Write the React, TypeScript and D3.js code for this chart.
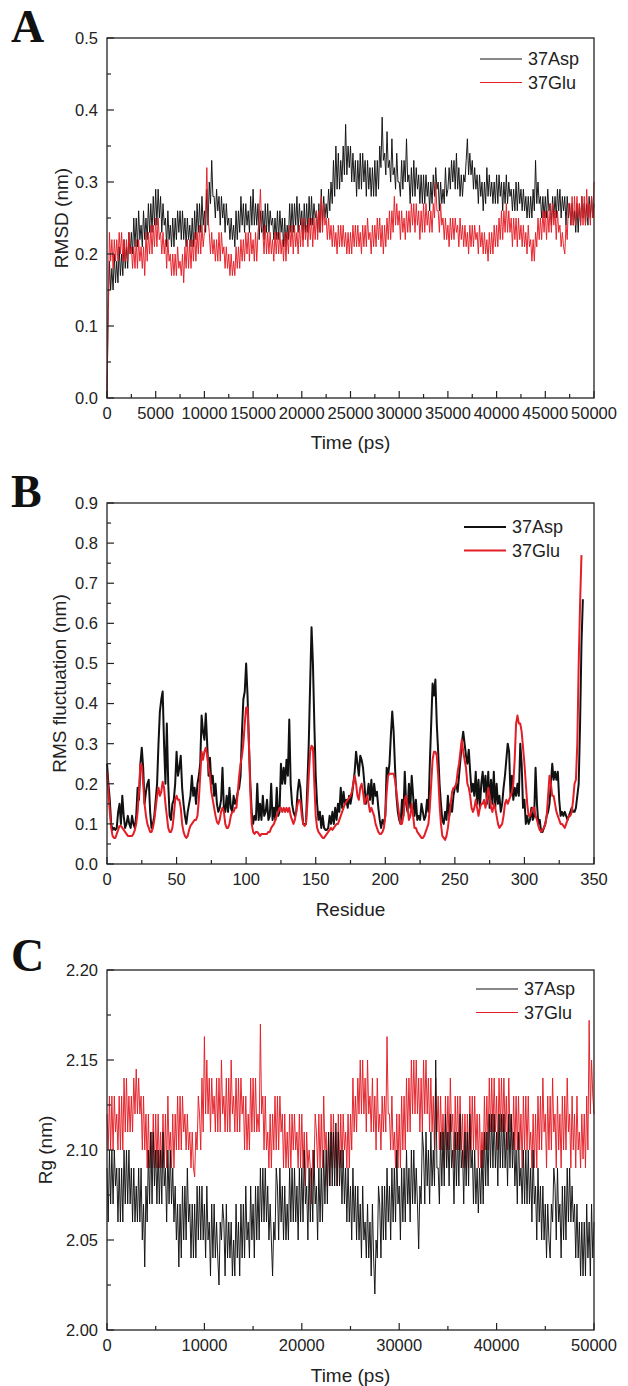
import React from 'react';
import * as d3 from 'd3';

const seriesNames = ['37Asp', '37Glu'];
const seriesColors = ['#111111', '#e41e26'];

// Panel A: RMSD (nm), sampled every 125 ps
const rmsdStep = 125;
const rmsdAsp = [
 0.00,0.12,0.19,0.15,0.18,0.15,0.20,0.16,0.19,0.16,0.21,0.17,0.20,0.17,0.22,0.18,0.21,0.18,0.23,0.20,
 0.23,0.20,0.25,0.21,0.25,0.21,0.26,0.22,0.24,0.21,0.26,0.22,0.25,0.22,0.27,0.23,0.27,0.23,0.28,0.24,
 0.29,0.24,0.29,0.25,0.28,0.23,0.27,0.24,0.25,0.21,0.26,0.22,0.24,0.21,0.25,0.21,0.25,0.22,0.26,0.23,
 0.26,0.22,0.26,0.22,0.25,0.21,0.25,0.22,0.24,0.21,0.25,0.21,0.26,0.22,0.27,0.23,0.27,0.23,0.28,0.24,
 0.26,0.23,0.29,0.24,0.30,0.27,0.33,0.28,0.28,0.25,0.29,0.26,0.28,0.24,0.28,0.25,0.27,0.23,0.27,0.24,
 0.25,0.22,0.25,0.22,0.24,0.21,0.26,0.22,0.26,0.23,0.28,0.24,0.27,0.23,0.27,0.24,0.26,0.23,0.28,0.24,
 0.29,0.24,0.27,0.24,0.27,0.22,0.26,0.23,0.26,0.22,0.27,0.23,0.27,0.23,0.26,0.24,0.25,0.22,0.25,0.22,
 0.26,0.22,0.26,0.23,0.25,0.21,0.25,0.21,0.24,0.22,0.27,0.23,0.27,0.23,0.27,0.24,0.28,0.23,0.27,0.24,
 0.26,0.22,0.27,0.23,0.27,0.23,0.28,0.24,0.28,0.24,0.27,0.25,0.26,0.23,0.27,0.23,0.29,0.24,0.28,0.25,
 0.27,0.25,0.29,0.26,0.30,0.27,0.33,0.28,0.35,0.29,0.34,0.29,0.33,0.30,0.35,0.31,0.38,0.31,0.35,0.32,
 0.35,0.30,0.34,0.30,0.33,0.28,0.33,0.29,0.34,0.29,0.34,0.30,0.33,0.28,0.33,0.29,0.32,0.28,0.32,0.28,
 0.33,0.28,0.33,0.29,0.35,0.32,0.39,0.33,0.34,0.31,0.37,0.32,0.33,0.30,0.36,0.31,0.32,0.29,0.34,0.30,
 0.30,0.28,0.33,0.29,0.33,0.30,0.36,0.30,0.31,0.27,0.32,0.28,0.33,0.28,0.32,0.29,0.31,0.27,0.31,0.27,
 0.31,0.27,0.31,0.28,0.30,0.26,0.30,0.27,0.31,0.28,0.32,0.29,0.30,0.26,0.30,0.27,0.29,0.27,0.32,0.28,
 0.29,0.32,0.29,0.33,0.30,0.33,0.29,0.34,0.29,0.32,0.28,0.31,0.28,0.31,0.30,0.33,0.36,0.31,0.34,0.31,
 0.33,0.29,0.32,0.29,0.31,0.27,0.31,0.28,0.30,0.26,0.30,0.27,0.32,0.28,0.31,0.28,0.30,0.27,0.30,0.27,
 0.31,0.27,0.31,0.28,0.30,0.26,0.30,0.27,0.31,0.27,0.30,0.28,0.29,0.26,0.29,0.26,0.30,0.26,0.30,0.27,
 0.29,0.26,0.29,0.26,0.28,0.25,0.28,0.25,0.28,0.25,0.29,0.26,0.33,0.27,0.30,0.27,0.28,0.25,0.28,0.25,
 0.28,0.25,0.29,0.26,0.27,0.24,0.28,0.25,0.28,0.25,0.29,0.26,0.29,0.25,0.28,0.26,0.28,0.24,0.28,0.25,
 0.27,0.24,0.27,0.24,0.26,0.23,0.27,0.23,0.27,0.24,0.28,0.25,0.27,0.24,0.27,0.24,0.28,0.25,0.28,0.25,
 0.27];
const rmsdGlu = [
 0.00,0.13,0.23,0.19,0.22,0.18,0.22,0.19,0.22,0.19,0.23,0.20,0.23,0.19,0.22,0.19,0.22,0.19,0.23,0.20,
 0.21,0.18,0.21,0.18,0.22,0.18,0.22,0.19,0.21,0.18,0.21,0.17,0.23,0.19,0.23,0.20,0.24,0.20,0.24,0.21,
 0.25,0.21,0.25,0.22,0.23,0.20,0.23,0.20,0.22,0.18,0.22,0.19,0.20,0.17,0.20,0.17,0.20,0.17,0.21,0.18,
 0.19,0.17,0.20,0.16,0.21,0.18,0.22,0.18,0.22,0.18,0.22,0.19,0.23,0.19,0.23,0.20,0.24,0.20,0.24,0.21,
 0.23,0.26,0.32,0.25,0.23,0.20,0.23,0.20,0.22,0.19,0.22,0.19,0.23,0.19,0.23,0.20,0.21,0.18,0.21,0.18,
 0.20,0.17,0.20,0.17,0.19,0.17,0.21,0.18,0.21,0.18,0.22,0.19,0.22,0.19,0.23,0.20,0.23,0.19,0.23,0.20,
 0.22,0.19,0.23,0.19,0.23,0.25,0.29,0.24,0.23,0.20,0.24,0.20,0.23,0.20,0.23,0.20,0.22,0.19,0.23,0.20,
 0.23,0.20,0.23,0.20,0.22,0.19,0.23,0.19,0.23,0.20,0.24,0.21,0.24,0.20,0.24,0.21,0.23,0.20,0.24,0.21,
 0.25,0.21,0.25,0.22,0.24,0.21,0.25,0.22,0.25,0.21,0.25,0.22,0.26,0.22,0.26,0.23,0.28,0.23,0.27,0.24,
 0.25,0.22,0.25,0.22,0.24,0.21,0.24,0.21,0.23,0.20,0.24,0.21,0.24,0.21,0.24,0.21,0.23,0.20,0.23,0.20,
 0.23,0.20,0.24,0.21,0.24,0.21,0.24,0.21,0.23,0.20,0.24,0.21,0.24,0.21,0.25,0.22,0.23,0.20,0.24,0.21,
 0.24,0.21,0.25,0.22,0.25,0.21,0.24,0.20,0.24,0.21,0.25,0.22,0.26,0.22,0.26,0.23,0.28,0.24,0.27,0.24,
 0.26,0.22,0.26,0.23,0.25,0.22,0.26,0.23,0.26,0.23,0.27,0.24,0.27,0.23,0.27,0.24,0.26,0.22,0.26,0.23,
 0.27,0.23,0.27,0.24,0.26,0.23,0.26,0.23,0.27,0.25,0.30,0.26,0.26,0.23,0.27,0.24,0.25,0.22,0.25,0.22,
 0.24,0.21,0.25,0.22,0.25,0.22,0.25,0.23,0.24,0.21,0.25,0.22,0.24,0.21,0.24,0.21,0.23,0.20,0.24,0.21,
 0.24,0.21,0.24,0.22,0.23,0.20,0.24,0.21,0.23,0.20,0.23,0.20,0.22,0.19,0.23,0.20,0.23,0.20,0.24,0.21,
 0.24,0.21,0.25,0.22,0.26,0.22,0.26,0.23,0.27,0.23,0.26,0.23,0.25,0.21,0.25,0.22,0.25,0.21,0.25,0.22,
 0.24,0.21,0.24,0.21,0.23,0.20,0.24,0.21,0.22,0.19,0.22,0.19,0.23,0.21,0.25,0.22,0.25,0.22,0.26,0.23,
 0.26,0.22,0.26,0.23,0.27,0.23,0.27,0.24,0.26,0.22,0.26,0.23,0.24,0.21,0.23,0.21,0.20,0.24,0.22,0.27,
 0.27,0.24,0.28,0.24,0.28,0.24,0.28,0.25,0.27,0.24,0.28,0.24,0.28,0.24,0.29,0.25,0.27,0.24,0.28,0.25,
 0.30];

// Panel B: RMS fluctuation (nm) per residue
const rmsfAsp = [0.25,0.2,0.16,0.1,0.085,0.09,0.085,0.09,0.13,0.15,
 0.1,0.17,0.12,0.09,0.1,0.12,0.1,0.09,0.12,0.1,
 0.09,0.12,0.19,0.16,0.25,0.29,0.24,0.15,0.18,0.2,
 0.21,0.13,0.09,0.1,0.12,0.16,0.2,0.3,0.38,0.41,
 0.43,0.3,0.2,0.35,0.2,0.12,0.11,0.15,0.16,0.2,
 0.28,0.22,0.24,0.27,0.19,0.15,0.12,0.1,0.13,0.15,
 0.17,0.22,0.17,0.19,0.15,0.2,0.22,0.25,0.37,0.33,
 0.31,0.375,0.3,0.22,0.265,0.2,0.22,0.17,0.2,0.15,
 0.13,0.14,0.16,0.24,0.14,0.13,0.17,0.13,0.19,0.14,
 0.13,0.17,0.15,0.16,0.18,0.19,0.22,0.33,0.41,0.43,
 0.5,0.42,0.3,0.2,0.13,0.1,0.12,0.11,0.2,0.11,
 0.15,0.11,0.17,0.12,0.13,0.16,0.11,0.12,0.2,0.11,
 0.14,0.11,0.19,0.12,0.13,0.25,0.2,0.24,0.2,0.26,
 0.22,0.36,0.2,0.15,0.13,0.12,0.13,0.18,0.21,0.19,
 0.14,0.1,0.1,0.1,0.2,0.3,0.45,0.59,0.5,0.35,
 0.22,0.15,0.11,0.13,0.09,0.12,0.09,0.085,0.085,0.09,
 0.12,0.1,0.13,0.1,0.14,0.11,0.15,0.13,0.19,0.14,
 0.18,0.15,0.16,0.14,0.17,0.15,0.17,0.2,0.23,0.28,
 0.25,0.22,0.27,0.26,0.24,0.2,0.15,0.17,0.2,0.16,
 0.21,0.15,0.2,0.17,0.18,0.14,0.11,0.09,0.11,0.1,
 0.12,0.24,0.22,0.25,0.32,0.38,0.33,0.24,0.17,0.13,
 0.11,0.1,0.16,0.12,0.23,0.15,0.13,0.2,0.14,0.22,
 0.17,0.12,0.16,0.11,0.12,0.11,0.15,0.13,0.11,0.12,
 0.16,0.13,0.25,0.35,0.45,0.42,0.46,0.35,0.28,0.2,
 0.15,0.11,0.1,0.13,0.11,0.17,0.12,0.15,0.13,0.17,
 0.19,0.2,0.18,0.22,0.26,0.3,0.33,0.3,0.27,0.25,
 0.285,0.23,0.18,0.2,0.17,0.23,0.15,0.21,0.14,0.2,
 0.23,0.18,0.22,0.15,0.23,0.14,0.21,0.15,0.23,0.14,
 0.2,0.15,0.17,0.13,0.15,0.19,0.22,0.26,0.3,0.28,
 0.17,0.22,0.16,0.19,0.17,0.2,0.17,0.3,0.25,0.14,
 0.16,0.1,0.12,0.1,0.11,0.14,0.11,0.12,0.24,0.15,
 0.1,0.11,0.08,0.08,0.09,0.1,0.12,0.13,0.15,0.2,
 0.25,0.21,0.23,0.21,0.23,0.16,0.12,0.13,0.12,0.13,
 0.12,0.11,0.12,0.13,0.14,0.13,0.13,0.14,0.17,0.2,
 0.35,0.55,0.66];
const rmsfGlu = [0.23,0.18,0.13,0.09,0.07,0.065,0.065,0.075,0.085,0.095,
 0.095,0.09,0.085,0.08,0.075,0.07,0.07,0.07,0.07,0.075,
 0.085,0.1,0.13,0.18,0.25,0.245,0.2,0.15,0.12,0.1,
 0.09,0.08,0.08,0.09,0.11,0.14,0.17,0.19,0.17,0.18,
 0.205,0.19,0.15,0.12,0.09,0.08,0.08,0.09,0.12,0.16,
 0.17,0.16,0.16,0.14,0.1,0.08,0.07,0.065,0.07,0.085,
 0.095,0.1,0.105,0.11,0.11,0.12,0.16,0.22,0.28,0.26,
 0.28,0.29,0.27,0.24,0.22,0.18,0.16,0.14,0.12,0.105,
 0.1,0.11,0.13,0.14,0.13,0.1,0.09,0.09,0.1,0.12,
 0.13,0.13,0.14,0.14,0.18,0.22,0.25,0.27,0.3,0.35,
 0.39,0.39,0.3,0.18,0.1,0.08,0.075,0.08,0.08,0.075,
 0.07,0.075,0.075,0.075,0.075,0.075,0.08,0.08,0.09,0.095,
 0.1,0.11,0.12,0.13,0.14,0.14,0.13,0.14,0.13,0.14,
 0.13,0.14,0.12,0.11,0.1,0.11,0.13,0.15,0.16,0.155,
 0.12,0.1,0.095,0.1,0.15,0.22,0.28,0.295,0.29,0.2,
 0.12,0.09,0.08,0.075,0.07,0.065,0.065,0.07,0.075,0.08,
 0.085,0.09,0.085,0.09,0.095,0.1,0.1,0.11,0.12,0.13,
 0.14,0.15,0.155,0.16,0.165,0.17,0.18,0.2,0.22,0.2,
 0.17,0.16,0.19,0.2,0.18,0.15,0.16,0.17,0.15,0.13,
 0.14,0.13,0.12,0.1,0.09,0.08,0.075,0.075,0.08,0.09,
 0.12,0.18,0.22,0.225,0.225,0.225,0.225,0.21,0.18,0.15,
 0.12,0.1,0.1,0.12,0.16,0.17,0.14,0.11,0.12,0.15,
 0.12,0.09,0.09,0.08,0.075,0.07,0.065,0.065,0.07,0.08,
 0.09,0.1,0.14,0.2,0.26,0.28,0.28,0.27,0.22,0.15,
 0.1,0.07,0.065,0.06,0.07,0.09,0.12,0.15,0.18,0.19,
 0.19,0.2,0.23,0.25,0.28,0.31,0.28,0.26,0.24,0.2,
 0.19,0.17,0.14,0.13,0.14,0.16,0.14,0.12,0.14,0.15,
 0.15,0.16,0.14,0.16,0.19,0.17,0.14,0.13,0.15,0.14,
 0.12,0.1,0.09,0.095,0.1,0.12,0.15,0.16,0.15,0.16,
 0.17,0.18,0.2,0.26,0.35,0.37,0.35,0.35,0.33,0.29,
 0.25,0.2,0.15,0.12,0.12,0.13,0.14,0.14,0.12,0.11,
 0.095,0.085,0.08,0.085,0.09,0.1,0.12,0.17,0.22,0.2,
 0.17,0.17,0.15,0.13,0.12,0.11,0.1,0.1,0.095,0.09,
 0.1,0.11,0.12,0.12,0.13,0.16,0.2,0.21,0.3,0.5,
 0.65,0.77];

// Panel C: Rg (nm), sampled every 125 ps
const rgStep = 125;
const rgAsp = [
 2.09,2.06,2.10,2.07,2.10,2.07,2.10,2.08,2.09,2.06,2.09,2.06,2.09,2.06,2.10,2.07,2.10,2.07,2.10,2.07,
 2.09,2.06,2.09,2.06,2.08,2.06,2.09,2.06,2.09,2.05,2.07,2.035,2.08,2.06,2.10,2.07,2.11,2.07,2.11,2.08,
 2.10,2.07,2.10,2.07,2.10,2.07,2.11,2.08,2.09,2.06,2.10,2.07,2.10,2.07,2.09,2.06,2.08,2.05,2.07,2.035,
 2.07,2.04,2.08,2.05,2.08,2.05,2.09,2.06,2.07,2.04,2.07,2.04,2.07,2.04,2.08,2.05,2.08,2.05,2.08,2.05,
 2.07,2.04,2.08,2.05,2.06,2.03,2.07,2.04,2.07,2.04,2.06,2.04,2.025,2.06,2.05,2.07,2.06,2.03,2.07,2.04,
 2.06,2.04,2.06,2.03,2.05,2.03,2.07,2.04,2.06,2.03,2.07,2.04,2.07,2.04,2.08,2.05,2.06,2.04,2.08,2.05,
 2.07,2.04,2.08,2.05,2.08,2.05,2.09,2.06,2.09,2.06,2.09,2.06,2.08,2.05,2.07,2.05,2.03,2.06,2.05,2.09,
 2.08,2.05,2.09,2.06,2.08,2.05,2.08,2.05,2.07,2.05,2.09,2.06,2.09,2.06,2.09,2.06,2.08,2.05,2.09,2.06,
 2.09,2.06,2.10,2.07,2.08,2.05,2.09,2.06,2.09,2.06,2.10,2.07,2.08,2.05,2.09,2.06,2.09,2.06,2.10,2.07,
 2.10,2.07,2.11,2.08,2.11,2.08,2.11,2.08,2.115,2.08,2.11,2.08,2.10,2.07,2.10,2.07,2.09,2.06,2.09,2.06,
 2.08,2.05,2.09,2.06,2.08,2.05,2.08,2.05,2.07,2.04,2.08,2.05,2.06,2.04,2.07,2.04,2.06,2.03,2.07,2.04,
 2.02,2.05,2.04,2.08,2.07,2.04,2.08,2.05,2.08,2.05,2.09,2.06,2.08,2.05,2.09,2.06,2.09,2.06,2.10,2.07,
 2.08,2.05,2.09,2.06,2.09,2.06,2.10,2.07,2.09,2.06,2.10,2.07,2.10,2.07,2.09,2.07,2.045,2.08,2.07,2.11,
 2.10,2.07,2.11,2.08,2.10,2.07,2.11,2.08,2.10,2.08,2.15,2.09,2.09,2.07,2.11,2.08,2.11,2.08,2.12,2.09,
 2.11,2.08,2.12,2.09,2.10,2.07,2.11,2.08,2.11,2.08,2.12,2.09,2.10,2.07,2.11,2.08,2.11,2.08,2.12,2.09,
 2.10,2.07,2.10,2.07,2.09,2.065,2.09,2.07,2.10,2.07,2.11,2.08,2.11,2.08,2.12,2.09,2.12,2.09,2.12,2.09,
 2.11,2.08,2.12,2.09,2.12,2.09,2.12,2.09,2.11,2.08,2.12,2.09,2.12,2.09,2.11,2.08,2.10,2.07,2.11,2.08,
 2.09,2.07,2.10,2.07,2.10,2.07,2.10,2.07,2.09,2.06,2.10,2.07,2.08,2.05,2.09,2.06,2.08,2.05,2.08,2.05,
 2.07,2.04,2.07,2.05,2.04,2.07,2.06,2.09,2.08,2.05,2.09,2.06,2.07,2.04,2.08,2.05,2.08,2.05,2.09,2.06,
 2.09,2.06,2.08,2.06,2.07,2.04,2.07,2.04,2.06,2.03,2.06,2.03,2.06,2.03,2.07,2.04,2.06,2.03,2.07,2.04,
 2.06];
const rgGlu = [
 2.12,2.10,2.13,2.10,2.13,2.10,2.13,2.11,2.12,2.10,2.13,2.10,2.13,2.10,2.14,2.11,2.14,2.11,2.13,2.11,
 2.13,2.11,2.14,2.12,2.145,2.12,2.14,2.12,2.13,2.10,2.13,2.10,2.12,2.09,2.12,2.09,2.11,2.09,2.12,2.09,
 2.12,2.09,2.12,2.09,2.11,2.09,2.12,2.09,2.12,2.09,2.13,2.10,2.11,2.09,2.12,2.09,2.12,2.10,2.13,2.10,
 2.13,2.10,2.13,2.11,2.12,2.10,2.12,2.10,2.11,2.09,2.11,2.09,2.085,2.11,2.10,2.13,2.12,2.10,2.14,2.11,
 2.163,2.12,2.15,2.12,2.14,2.11,2.14,2.12,2.13,2.11,2.14,2.11,2.14,2.11,2.15,2.12,2.13,2.11,2.14,2.11,
 2.14,2.11,2.15,2.12,2.13,2.11,2.14,2.11,2.14,2.11,2.14,2.12,2.13,2.10,2.13,2.10,2.12,2.10,2.14,2.11,
 2.14,2.11,2.14,2.11,2.12,2.11,2.17,2.12,2.13,2.10,2.13,2.10,2.11,2.09,2.12,2.09,2.12,2.10,2.13,2.10,
 2.13,2.10,2.13,2.11,2.12,2.09,2.12,2.09,2.11,2.09,2.12,2.09,2.12,2.10,2.12,2.10,2.11,2.09,2.12,2.09,
 2.12,2.09,2.11,2.08,2.11,2.09,2.10,2.09,2.07,2.10,2.09,2.12,2.11,2.09,2.12,2.09,2.12,2.09,2.13,2.10,
 2.11,2.08,2.11,2.08,2.12,2.09,2.12,2.09,2.11,2.08,2.12,2.09,2.12,2.09,2.12,2.10,2.11,2.09,2.12,2.09,
 2.12,2.10,2.14,2.11,2.13,2.11,2.14,2.12,2.15,2.12,2.15,2.12,2.14,2.11,2.15,2.12,2.13,2.11,2.14,2.11,
 2.13,2.10,2.14,2.11,2.12,2.10,2.13,2.11,2.13,2.11,2.163,2.12,2.12,2.10,2.13,2.10,2.11,2.09,2.12,2.09,
 2.12,2.09,2.13,2.10,2.13,2.10,2.14,2.11,2.14,2.11,2.15,2.12,2.15,2.12,2.15,2.12,2.14,2.11,2.14,2.11,
 2.15,2.12,2.15,2.12,2.14,2.11,2.14,2.11,2.13,2.10,2.14,2.11,2.13,2.10,2.13,2.10,2.12,2.09,2.13,2.10,
 2.13,2.10,2.14,2.11,2.12,2.09,2.13,2.10,2.13,2.10,2.13,2.10,2.12,2.09,2.12,2.09,2.12,2.09,2.13,2.10,
 2.13,2.10,2.13,2.10,2.12,2.09,2.12,2.09,2.11,2.09,2.13,2.10,2.13,2.10,2.14,2.11,2.14,2.11,2.14,2.11,
 2.13,2.10,2.14,2.11,2.14,2.11,2.14,2.11,2.13,2.10,2.14,2.11,2.12,2.10,2.13,2.10,2.13,2.10,2.13,2.10,
 2.12,2.09,2.13,2.10,2.13,2.10,2.13,2.10,2.11,2.09,2.12,2.09,2.12,2.09,2.13,2.10,2.13,2.10,2.14,2.11,
 2.12,2.09,2.13,2.10,2.13,2.10,2.14,2.11,2.12,2.09,2.13,2.10,2.12,2.09,2.13,2.10,2.13,2.10,2.14,2.11,
 2.12,2.09,2.13,2.10,2.12,2.09,2.13,2.10,2.11,2.09,2.12,2.095,2.12,2.09,2.13,2.10,2.172,2.12,2.15,2.13,
 2.12];

// Ticks
const timeTicks5k = [0, 5000, 10000, 15000, 20000, 25000, 30000, 35000, 40000, 45000, 50000];
const timeTicks10k = [0, 10000, 20000, 30000, 40000, 50000];
const residueTicks = [0, 50, 100, 150, 200, 250, 300, 350];
const rmsdTicks = [0, 0.1, 0.2, 0.3, 0.4, 0.5];
const rmsfTicks = [0, 0.1, 0.2, 0.3, 0.4, 0.5, 0.6, 0.7, 0.8, 0.9];
const rgTicks = [2.0, 2.05, 2.1, 2.15, 2.2];

const SANS = "'Liberation Sans', Arial, sans-serif";
const SERIF = "'Liberation Serif', 'Times New Roman', serif";
const LEFT = 107;
const RIGHT = 594;

type S = { values: number[]; step: number; color: string; width: number; name: string };

function Panel(props: {
  label: string; labelY: number; top: number; bottom: number;
  xDomain: [number, number]; yDomain: [number, number];
  xMajor: number[]; xMinorStep: number; yMajor: number[]; yMinorStep: number;
  yFmt: (v: number) => string; xTitle: string; xTitleY: number; yTitle: string; yTitleX: number;
  series: S[]; legendY: number; legendX: number; legendLineW: number;
}) {
  const p = props;
  const x = d3.scaleLinear().domain(p.xDomain).range([LEFT, RIGHT]);
  const y = d3.scaleLinear().domain(p.yDomain).range([p.bottom, p.top]);
  const xMinor = d3.range(p.xDomain[0], p.xDomain[1] + 1e-9, p.xMinorStep).filter(v => !p.xMajor.some(m => Math.abs(m - v) < 1e-9));
  const yMinor = d3.range(p.yDomain[0], p.yDomain[1] + 1e-9, p.yMinorStep).filter(v => !p.yMajor.some(m => Math.abs(m - v) < 1e-9));
  const axisColor = '#222';
  const mid = (p.top + p.bottom) / 2;
  return (
    <g>
      <text x={11} y={p.labelY} fontFamily={SERIF} fontWeight="bold" fontSize={46} fill="#111">{p.label}</text>
      {p.series.map((s, k) => {
        const line = d3.line<number>().x((_, i) => x(i * s.step)).y(d => y(d));
        return <path key={k} d={line(s.values) || ''} fill="none" stroke={s.color} strokeWidth={s.width} strokeLinejoin="round" />;
      })}
      <rect x={LEFT} y={p.top} width={RIGHT - LEFT} height={p.bottom - p.top} fill="none" stroke={axisColor} strokeWidth={1.3} />
      {p.xMajor.map(v => (
        <g key={'xm' + v}>
          <line x1={x(v)} x2={x(v)} y1={p.bottom} y2={p.bottom - 7} stroke={axisColor} strokeWidth={1.2} />
          <text x={x(v)} y={p.bottom + 21} textAnchor="middle" fontFamily={SANS} fontSize={16.5} fill="#222">{String(v)}</text>
        </g>
      ))}
      {xMinor.map(v => (
        <line key={'xn' + v} x1={x(v)} x2={x(v)} y1={p.bottom} y2={p.bottom - 4} stroke={axisColor} strokeWidth={1.2} />
      ))}
      {p.yMajor.map(v => (
        <g key={'ym' + v}>
          <line x1={LEFT} x2={LEFT + 7} y1={y(v)} y2={y(v)} stroke={axisColor} strokeWidth={1.2} />
          <text x={98} y={y(v)} dy="0.36em" textAnchor="end" fontFamily={SANS} fontSize={16.5} fill="#222">{p.yFmt(v)}</text>
        </g>
      ))}
      {yMinor.map(v => (
        <line key={'yn' + v} x1={LEFT} x2={LEFT + 4} y1={y(v)} y2={y(v)} stroke={axisColor} strokeWidth={1.2} />
      ))}
      <text x={(LEFT + RIGHT) / 2} y={p.xTitleY} textAnchor="middle" fontFamily={SANS} fontSize={19} fill="#222">{p.xTitle}</text>
      <text transform={`translate(${p.yTitleX},${mid}) rotate(-90)`} textAnchor="middle" fontFamily={SANS} fontSize={19} fill="#222">{p.yTitle}</text>
      {seriesNames.map((n, k) => {
        const s = p.series.find(ss => ss.name === n)!;
        const ly = p.legendY + k * 23.5;
        return (
          <g key={'lg' + n}>
            <line x1={p.legendX} x2={p.legendX + 42} y1={ly} y2={ly} stroke={s.color} strokeWidth={p.legendLineW} />
            <text x={p.legendX + 48} y={ly} dy="0.36em" fontFamily={SANS} fontSize={18} fill="#222">{n}</text>
          </g>
        );
      })}
    </g>
  );
}

export default function App() {
  const thin = 0.95;
  const aSeries: S[] = [
    { name: seriesNames[0], values: rmsdAsp, step: rmsdStep, color: seriesColors[0], width: thin },
    { name: seriesNames[1], values: rmsdGlu, step: rmsdStep, color: seriesColors[1], width: thin },
  ];
  const bSeries: S[] = [
    { name: seriesNames[0], values: rmsfAsp, step: 1, color: seriesColors[0], width: 2 },
    { name: seriesNames[1], values: rmsfGlu, step: 1, color: seriesColors[1], width: 2 },
  ];
  const cSeries: S[] = [
    { name: seriesNames[1], values: rgGlu, step: rgStep, color: seriesColors[1], width: thin },
    { name: seriesNames[0], values: rgAsp, step: rgStep, color: seriesColors[0], width: thin },
  ];
  return (
    <div style={{ position: 'absolute', left: 0, top: 0 }}>
      <svg width={628} height={1386} style={{ display: 'block', background: '#fff' }}>
        <Panel label="A" labelY={42} top={38} bottom={398} xDomain={[0, 50000]} yDomain={[0, 0.5]}
          xMajor={timeTicks5k} xMinorStep={2500} yMajor={rmsdTicks} yMinorStep={0.05}
          yFmt={d3.format('.1f')} xTitle="Time (ps)" xTitleY={449} yTitle="RMSD (nm)" yTitleX={68}
          series={aSeries} legendY={59} legendX={480} legendLineW={1.2} />
        <Panel label="B" labelY={507} top={503} bottom={864} xDomain={[0, 350]} yDomain={[0, 0.9]}
          xMajor={residueTicks} xMinorStep={25} yMajor={rmsfTicks} yMinorStep={0.05}
          yFmt={d3.format('.1f')} xTitle="Residue" xTitleY={916} yTitle="RMS fluctuation (nm)" yTitleX={66}
          series={bSeries} legendY={527} legendX={464} legendLineW={2.2} />
        <Panel label="C" labelY={971} top={970} bottom={1330} xDomain={[0, 50000]} yDomain={[2.0, 2.2]}
          xMajor={timeTicks10k} xMinorStep={5000} yMajor={rgTicks} yMinorStep={0.025}
          yFmt={d3.format('.2f')} xTitle="Time (ps)" xTitleY={1382} yTitle="Rg (nm)" yTitleX={52}
          series={cSeries} legendY={989} legendX={476} legendLineW={1.2} />
      </svg>
    </div>
  );
}
